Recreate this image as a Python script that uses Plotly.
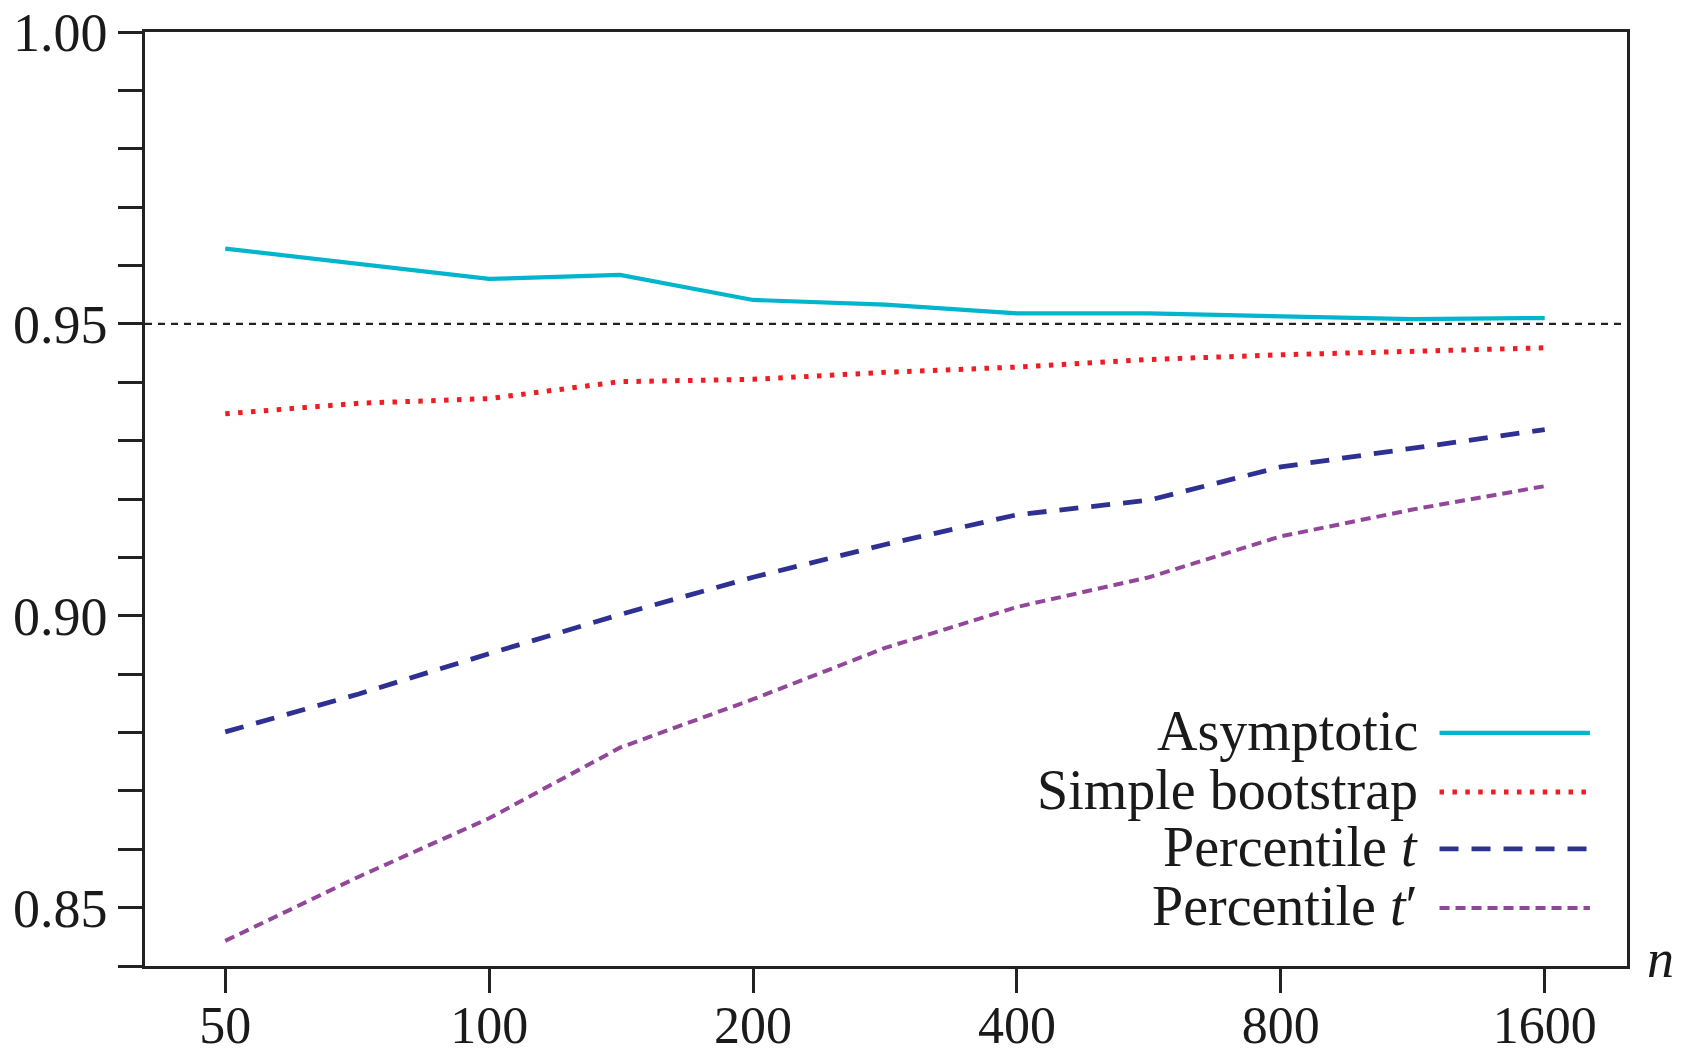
import plotly.graph_objects as go
import math

# ---- data ----
n_values = [50, 71, 100, 141, 200, 283, 400, 566, 800, 1131, 1600]
asymptotic = [0.9629, 0.9603, 0.9577, 0.9584, 0.9541, 0.9533, 0.9518, 0.9518, 0.9513, 0.9508, 0.9510]
simple_bootstrap = [0.9346, 0.9364, 0.9372, 0.9401, 0.9405, 0.9417, 0.9426, 0.9439, 0.9447, 0.9453, 0.9459]
percentile_t = [0.8801, 0.8866, 0.8935, 0.9002, 0.9066, 0.9122, 0.9173, 0.9198, 0.9255, 0.9286, 0.9319]
percentile_t_prime = [0.8443, 0.8553, 0.8653, 0.8774, 0.8857, 0.8945, 0.9015, 0.9066, 0.9136, 0.9182, 0.9222]
series_names = ["Asymptotic", "Simple bootstrap", "Percentile <i>t</i>", "Percentile <i>t</i>\u2032"]
x_tick_vals = [50, 100, 200, 400, 800, 1600]
x_tick_text = ["50", "100", "200", "400", "800", "1600"]
y_tick_vals = [0.85, 0.90, 0.95, 1.00]
y_tick_text = ["0.85", "0.90", "0.95", "1.00"]
nominal_level = 0.95

# ---- styles ----
colors = ["#00B5CC", "#EE1D24", "#2E3192", "#93479B"]
widths = [4.2, 5.0, 4.8, 4.0]
dashes = ["solid", "4.5px,8.4px", "19px,13px", "10px,6px"]
FONT = "Liberation Serif"
TXT = "#1a1a1a"
AX = "#222222"

series = [asymptotic, simple_bootstrap, percentile_t, percentile_t_prime]

fig = go.Figure()
for name, vals, c, w, d in zip(series_names, series, colors, widths, dashes):
    fig.add_trace(go.Scatter(x=n_values, y=vals, mode="lines", name=name,
                             line=dict(color=c, width=w, dash=d), showlegend=False))

# nominal level reference line
fig.add_shape(type="line", xref="x domain", yref="y", x0=0, x1=1,
              y0=nominal_level, y1=nominal_level,
              line=dict(color=AX, width=2.2, dash="7px,6px"), layer="below")

# manual legend (text right-aligned, sample line on right)
leg_y = [0.2495, 0.1863, 0.1253, 0.0621]
for name, c, w, d, yy in zip(series_names, colors, widths, dashes, leg_y):
    fig.add_annotation(xref="x domain", yref="y domain", x=0.860, y=yy + 0.002,
                       text=name, showarrow=False, xanchor="right", yanchor="middle",
                       font=dict(family=FONT, size=56, color=TXT))
    fig.add_shape(type="line", xref="x domain", yref="y domain",
                  x0=0.8735, x1=0.975, y0=yy, y1=yy,
                  line=dict(color=c, width=w, dash=d))

# axis label n
fig.add_annotation(xref="x domain", yref="y domain", x=1.012, y=0.008,
                   text="<i>n</i>", showarrow=False, xanchor="left", yanchor="middle",
                   font=dict(family=FONT, size=54, color=TXT))

fig.update_xaxes(type="log", range=[math.log10(40.5), math.log10(1986)],
                 tickvals=x_tick_vals, ticktext=x_tick_text, automargin=False,
                 ticks="outside", ticklen=24, tickwidth=2.6, tickcolor=AX,
                 ticklabelstandoff=-12,
                 showline=True, linewidth=2.6, linecolor=AX, mirror=True,
                 showgrid=False, zeroline=False,
                 tickfont=dict(family=FONT, size=52, color=TXT))
fig.update_yaxes(range=[0.84, 1.0], tickvals=y_tick_vals, ticktext=y_tick_text,
                 automargin=False,
                 ticks="outside", ticklen=24, tickwidth=2.6, tickcolor=AX,
                 minor=dict(dtick=0.01, tick0=0.84, ticks="outside", ticklen=24,
                            tickwidth=2.6, tickcolor=AX, showgrid=False),
                 showline=True, linewidth=2.6, linecolor=AX, mirror=True,
                 showgrid=False, zeroline=False,
                 tickfont=dict(family=FONT, size=54, color=TXT))

fig.update_layout(width=1687, height=1055,
                  margin=dict(l=145, r=60, t=32, b=89),
                  paper_bgcolor="white", plot_bgcolor="white")

fig.write_html("out.html", config={"displayModeBar": False},
               post_script="document.body.style.margin='0';document.body.style.overflow='hidden';")
